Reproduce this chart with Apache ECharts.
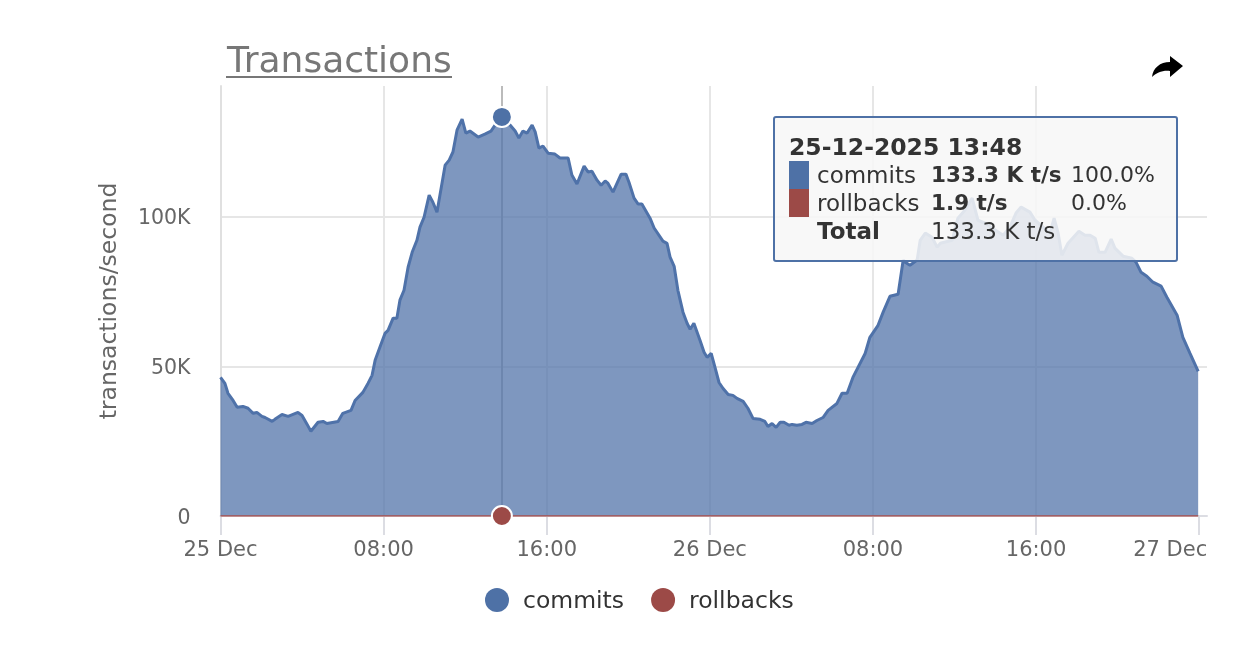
<!DOCTYPE html>
<html>
<head>
<meta charset="utf-8">
<title>Transactions</title>
<script src="https://cdn.jsdelivr.net/npm/echarts@6/dist/echarts.min.js"></script>
<style>
html, body { margin: 0; padding: 0; background: #fff; }
#chart { width: 1258px; height: 658px; }
.tip { font-family: "DejaVu Sans", sans-serif; font-size: 23px; line-height: 28px; color: #333; }
.tip table { border-collapse: collapse; }
.tip td { padding: 0; white-space: nowrap; }
.tip b { font-weight: bold; }
.tip .val { font-size: 21.5px; font-weight: bold; }
.tip .pct { font-size: 22px; }
.sw { display: block; width: 20px; height: 28px; }
</style>
</head>
<body>
<div id="chart"></div>
<script>
// minutes since 25 Dec 00:00
var minutes = [0, 13, 22, 37, 49, 66, 81, 96, 107, 122, 131, 152, 160, 181, 199, 228, 240, 255, 266, 287, 302, 313, 346, 360, 384, 396, 419, 434, 446, 455,
    469, 484, 493, 508, 519, 528, 540, 552, 564, 578, 587, 599, 614, 625, 637, 661, 673, 684, 696, 711, 722, 734, 758, 778, 796, 808, 828,
    852, 867, 878, 890, 902, 917, 926, 937, 949, 964, 984, 999, 1023, 1034, 1049, 1070, 1082, 1093, 1108, 1120, 1132, 1140, 1155, 1179, 1193,
    1202, 1217, 1229, 1240, 1264, 1276, 1302, 1314, 1323, 1335, 1346, 1361, 1373, 1382, 1393, 1411, 1423, 1432, 1444, 1455, 1467, 1479, 1494,
    1508, 1520, 1538, 1552, 1567, 1588, 1602, 1611, 1623, 1635, 1647, 1658, 1673, 1682, 1696, 1711, 1723, 1741, 1755, 1773, 1788, 1814, 1829,
    1844, 1861, 1897, 1911, 1935, 1950, 1970, 1994, 2009, 2015, 2029, 2050, 2059, 2074, 2094, 2109, 2118, 2153, 2170, 2191, 2212, 2229, 2250,
    2303, 2323, 2341, 2356, 2382, 2397, 2441, 2453, 2465, 2476, 2494, 2526, 2544, 2559, 2574, 2585, 2603, 2621, 2632, 2656, 2682, 2694, 2709,
    2726, 2744, 2768, 2785, 2815, 2832, 2853, 2877];
// K transactions/second
var commits = [46.3, 44.3, 41.0, 38.6, 36.3, 36.6, 36.0, 34.3, 34.6, 33.3, 32.9, 31.6, 32.3, 33.9, 33.3, 34.6, 33.6, 30.6, 28.3, 31.3, 31.6, 30.9, 31.6, 34.3, 35.3, 38.6, 41.3, 44.3, 47.0, 52.0,
    56.4, 61.0, 62.0, 66.1, 66.1, 72.1, 75.4, 83.1, 88.1, 92.1, 96.5, 99.8, 107.2, 104.8, 101.5, 117.2, 118.9, 121.6, 128.9, 132.6, 127.9, 128.6, 126.6, 127.6, 128.6, 130.6, 133.3,
    130.6, 128.6, 126.3, 128.6, 127.9, 130.6, 128.3, 122.9, 123.6, 121.2, 120.9, 119.6, 119.6, 113.9, 110.9, 116.9, 114.9, 115.2, 112.2, 110.5, 111.9, 111.2, 108.2, 114.2, 114.2,
    111.5, 106.2, 104.2, 104.2, 99.5, 96.2, 91.8, 91.1, 86.5, 83.4, 75.4, 68.1, 64.4, 62.4, 64.4, 58.7, 54.7, 53.0, 54.3, 49.7, 44.6, 42.6, 40.6,
    40.3, 39.3, 38.3, 36.0, 32.6, 32.3, 31.6, 29.9, 30.9, 29.6, 31.3, 31.3, 30.3, 30.6, 30.3, 30.6, 31.3, 30.9, 31.9, 32.9, 35.3, 37.6, 41.0,
    41.0, 46.3, 54.3, 59.7, 63.7, 68.1, 73.4, 74.1, 85.5, 84.8, 83.8, 85.5, 92.1, 94.5, 93.1, 89.8, 91.1, 92.1, 99.5, 102.2, 106.2, 98.8, 97.8,
    93.8, 96.5, 101.2, 103.2, 101.5, 98.8, 94.5, 99.5, 94.5, 87.1, 91.1, 95.1, 93.8, 93.8, 92.8, 88.1, 88.1, 92.5, 89.5, 86.8, 86.1, 84.8, 81.4,
    80.1, 78.1, 76.8, 73.1, 67.1, 59.7, 54.3, 48.3];
var rollbackMinutes = [0, 828, 2877];
var rollbacks = [2.0, 1.9, 2.0]; // t/s

var xTicks = [0, 480, 960, 1440, 1920, 2400, 2880];
var xTickLabels = ['25 Dec', '08:00', '16:00', '26 Dec', '08:00', '16:00', '27 Dec'];
var yTicks = [0, 50, 100];
var yTickLabels = ['0', '50K', '100K'];
var hoverLabel = '25-12-2025 13:48';
var hoverMinute = 828;

var blue = '#4e71a6', red = '#9c4a47', font = '"DejaVu Sans", sans-serif';
var chart = echarts.init(document.getElementById('chart'));

// export arrow, top right
echarts.graphic.registerShape('shareArrow', echarts.graphic.extendPath(
    'M18 0 L31 10 L18 21 L18 15 C11 14 4 17 0 21 C1 12 8 6 18 6 Z', {}));

function pair(xs, ys, scale) {
    return xs.map(function (x, i) { return [x, ys[i] * scale]; });
}

function tipHtml() {
    var c = commits[minutes.indexOf(hoverMinute)], r = rollbacks[rollbackMinutes.indexOf(hoverMinute)];
    var total = c * 1000 + r;
    return '<div class="tip"><b style="font-size:23.5px">' + hoverLabel + '</b><table>' +
        '<tr><td style="width:28px"><span class="sw" style="background:' + blue + '"></span></td><td style="width:114px">commits</td>' +
        '<td style="width:140px" class="val">' + c.toFixed(1) + ' K t/s</td><td class="pct">' + (c * 100000 / total).toFixed(1) + '%</td></tr>' +
        '<tr><td><span class="sw" style="background:' + red + '"></span></td><td>rollbacks</td>' +
        '<td class="val">' + r.toFixed(1) + ' t/s</td><td class="pct">' + (r * 100 / total).toFixed(1) + '%</td></tr>' +
        '<tr><td></td><td><b>Total</b></td><td>' + (total / 1000).toFixed(1) + ' K t/s</td><td></td></tr>' +
        '</table></div>';
}

chart.setOption({
    animation: false,
    textStyle: { fontFamily: font },
    title: {
        text: 'Transactions', left: 222, top: 40,
        textStyle: { fontFamily: font, fontSize: 36, fontWeight: 'normal', color: '#777' }
    },
    graphic: [
        { type: 'line', shape: { x1: 226, y1: 77, x2: 452, y2: 77 }, style: { stroke: '#777', lineWidth: 2 } },
        { type: 'shareArrow', x: 1152, y: 56, style: { fill: '#000' } }
    ],
    legend: {
        left: 480, top: 583, icon: 'circle', itemWidth: 24, itemHeight: 24, itemGap: 27,
        itemStyle: { borderWidth: 0 },
        formatter: '{a|{name}}',
        textStyle: {
            fontFamily: font, fontSize: 23.5, color: '#333',
            rich: { a: { fontFamily: font, fontSize: 23.5, color: '#333', padding: [4, 0, 0, 9] } }
        },
        data: ['commits', 'rollbacks']
    },
    grid: { left: 220.5, right: 51, top: 86, bottom: 142 },
    tooltip: {
        trigger: 'axis', triggerOn: 'none', alwaysShowContent: true, transitionDuration: 0,
        position: [773, 116],
        backgroundColor: 'rgba(247,247,247,0.86)', borderColor: blue, borderWidth: 2, borderRadius: 3,
        padding: [15, 14, 14, 14],
        extraCssText: 'box-shadow:none;width:373px;height:113px;box-sizing:content-box;',
        formatter: tipHtml,
        axisPointer: { type: 'line', z: 1, lineStyle: { color: '#bbb', width: 2, type: 'solid' }, label: { show: false } }
    },
    xAxis: {
        type: 'value', min: 0, max: 2903, interval: 480,
        axisLine: { show: true, onZero: false, lineStyle: { color: '#dcdde3', width: 2 } },
        axisTick: { show: true, customValues: xTicks, length: 19, lineStyle: { color: '#dcdde3', width: 2 } },
        axisLabel: {
            customValues: xTicks, margin: 24, fontSize: 21, color: '#666', fontFamily: font,
            formatter: function (v) {
                var label = xTickLabels[xTicks.indexOf(v)];
                return v === 2880 ? '{shift|' + label + '}' : label;
            },
            rich: { shift: { fontSize: 21, color: '#666', fontFamily: font, padding: [0, 58, 0, 0] } }
        },
        splitLine: { show: true, showMaxLine: false, lineStyle: { color: '#e6e6e6', width: 2 } }
    },
    yAxis: {
        type: 'value', min: 0, max: 143.65, interval: 50,
        name: 'transactions/second', nameLocation: 'middle', nameGap: 99, nameRotate: 90,
        nameTextStyle: { fontFamily: font, fontSize: 23.5, color: '#666' },
        axisLine: { show: true, lineStyle: { color: '#e0e0e0', width: 2 } },
        axisTick: { show: false },
        axisLabel: {
            customValues: yTicks, margin: 30, fontSize: 20.5, color: '#666', fontFamily: font,
            verticalAlignMinLabel: 'middle',
            formatter: function (v) { return '{a|' + yTickLabels[yTicks.indexOf(v)] + '}'; },
            rich: { a: { fontSize: 20.5, color: '#666', fontFamily: font, padding: [5, 0, 0, 0] } }
        },
        splitLine: { show: true, showMaxLine: false, lineStyle: { color: '#e6e6e6', width: 2 } }
    },
    series: [
        {
            name: 'commits', type: 'line', data: pair(minutes, commits, 1),
            showSymbol: false, symbol: 'circle', symbolSize: 20,
            itemStyle: { color: blue, borderColor: '#fff', borderWidth: 2 },
            lineStyle: { color: '#48689a', width: 3 },
            areaStyle: { color: '#4c6a9a', opacity: 0.75 },
            emphasis: { scale: false, lineStyle: { width: 3 } }
        },
        {
            name: 'rollbacks', type: 'line', data: pair(rollbackMinutes, rollbacks, 0.001),
            showSymbol: false, symbol: 'circle', symbolSize: 20,
            itemStyle: { color: red, borderColor: '#fff', borderWidth: 2 },
            lineStyle: { color: red, width: 1.5 },
            emphasis: { scale: false, lineStyle: { width: 1.5 } }
        }
    ]
});

chart.dispatchAction({ type: 'showTip', seriesIndex: 0, dataIndex: minutes.indexOf(hoverMinute) });
</script>
</body>
</html>
